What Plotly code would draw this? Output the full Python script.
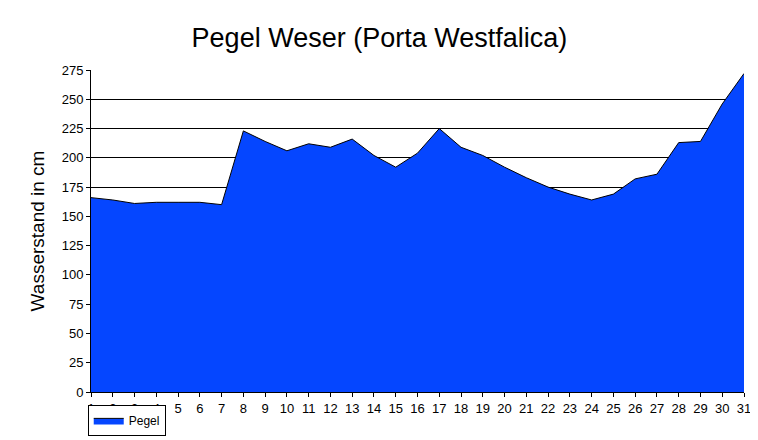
import plotly.graph_objects as go

days = list(range(1, 32))
pegel = [166, 164, 161, 162, 162, 162, 160, 223, 214, 206, 212, 209, 216, 202, 192, 204, 225,
         209, 202, 192, 183, 175, 169, 164, 169, 182, 186, 213, 214, 246, 272]
yticks = list(range(0, 276, 25))

fig = go.Figure()
fig.add_trace(go.Scatter(x=days, y=pegel, name="Pegel", mode="lines", fill="tozeroy",
                         line=dict(color="black", width=1), fillcolor="#0546ff"))
fig.update_layout(
    width=758, height=440, paper_bgcolor="white", plot_bgcolor="white",
    font=dict(family="Liberation Sans, Arial", color="black", size=13),
    title=dict(text="Pegel Weser (Porta Westfalica)", x=0.49, xanchor="center", y=0.955,
               font=dict(size=27)),
    margin=dict(l=83, r=22, t=62, b=45),
    showlegend=True,
    legend=dict(x=-0.005, y=-0.04, xanchor="left", yanchor="top", bordercolor="black",
                borderwidth=1, font=dict(size=12), itemwidth=30),
    xaxis=dict(range=[1, 31], tickvals=days, showgrid=False, showline=True, linecolor="black",
               ticks="outside", ticklen=4, tickcolor="black", zeroline=False, mirror=False),
    yaxis=dict(range=[0, 275], tickvals=yticks, showgrid=True, gridcolor="black", gridwidth=1,
               showline=True, linecolor="black", ticks="outside", ticklen=4, tickcolor="black",
               zeroline=False, title=dict(text="Wasserstand in cm", font=dict(size=19), standoff=12)),
)
fig.write_html("out.html")
